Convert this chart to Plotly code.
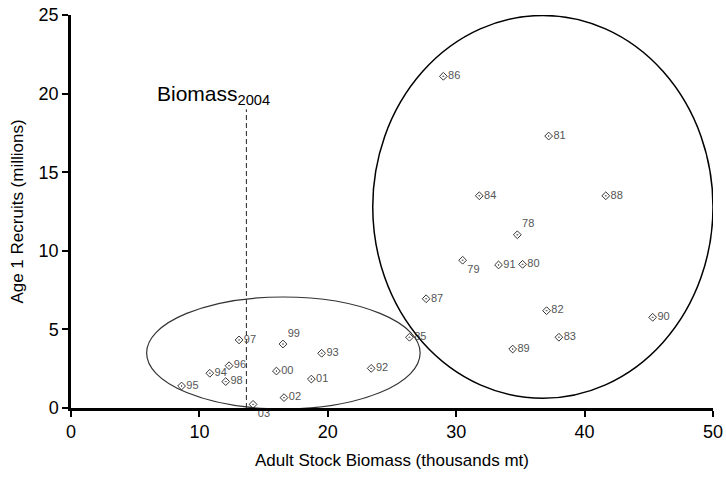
import plotly.graph_objects as go

# ---- data ----
years = ["78", "79", "80", "81", "82", "83", "84", "85", "86", "87", "88", "89", "90", "91",
         "92", "93", "94", "95", "96", "97", "98", "99", "00", "01", "02", "03"]
biomass = [34.76, 30.5, 35.17, 37.2, 37.04, 38.0, 31.8, 26.36, 29.0, 27.66, 41.65, 34.4, 45.3, 33.3,
           23.38, 19.52, 10.81, 8.61, 12.31, 13.09, 12.05, 16.51, 16.0, 18.72, 16.59, 14.18]
recruits = [11.02, 9.4, 9.14, 17.3, 6.19, 4.5, 13.5, 4.5, 21.1, 6.95, 13.5, 3.75, 5.77, 9.1,
            2.52, 3.48, 2.21, 1.40, 2.69, 4.33, 1.68, 4.07, 2.35, 1.84, 0.66, 0.23]
label_pos = {"78": "top right", "79": "bottom right", "99": "top right", "03": "bottom right"}

biomass_2004 = 13.66
biomass_2004_top = 19.0

# ellipse bounds (x0, x1, y0, y1) in data units
big_group = [23.5, 50.0, 0.62, 24.97]
small_group = [5.89, 27.19, -0.06, 7.06]

x_ticks = [0, 10, 20, 30, 40, 50]
y_ticks = [0, 5, 10, 15, 20, 25]

FONT = "Arial, 'Liberation Sans', sans-serif"

fig = go.Figure()

fig.add_trace(go.Scatter(
    x=[biomass_2004, biomass_2004], y=[0, biomass_2004_top], mode="lines",
    line=dict(color="#222222", width=1, dash="5px,3px"), hoverinfo="skip", showlegend=False))

fig.add_trace(go.Scatter(
    x=biomass, y=recruits, mode="markers+text", text=years,
    textposition=[label_pos.get(y, "middle right") for y in years],
    textfont=dict(family=FONT, size=11, color="#555555"),
    marker=dict(symbol="diamond-open-dot", size=6, color="#333333", line=dict(width=1, color="#333333")),
    cliponaxis=False, showlegend=False))

fig.add_shape(type="circle", xref="x", yref="y",
              x0=big_group[0], x1=big_group[1], y0=big_group[2], y1=big_group[3],
              line=dict(color="black", width=1.5))
fig.add_shape(type="circle", xref="x", yref="y",
              x0=small_group[0], x1=small_group[1], y0=small_group[2], y1=small_group[3],
              line=dict(color="#333333", width=1.2))

fig.add_annotation(x=11.1, y=19.9, xref="x", yref="y", text="Biomass<sub>2004</sub>",
                   showarrow=False, font=dict(family=FONT, size=21, color="black"))

axis_common = dict(showgrid=False, zeroline=False, showline=True, linecolor="black", linewidth=2.5,
                   ticks="outside", ticklen=6, tickwidth=2, tickcolor="black", automargin=False,
                   tickfont=dict(family=FONT, size=18, color="black"),
                   title_font=dict(family=FONT, size=17, color="black"))

fig.update_xaxes(range=[0, 50], tickvals=x_ticks, ticktext=[str(v) for v in x_ticks],
                 title=dict(text="Adult Stock Biomass (thousands mt)", standoff=13), **axis_common)
fig.update_yaxes(range=[0, 25], tickvals=y_ticks, ticktext=[str(v) for v in y_ticks],
                 title=dict(text="Age 1 Recruits (millions)", standoff=11), **axis_common)

fig.update_layout(width=726, height=477, margin=dict(l=71, r=13, t=15, b=69, autoexpand=False),
                  plot_bgcolor="white", paper_bgcolor="white", font=dict(family=FONT))

fig.write_html("out.html", config={"displayModeBar": False},
               post_script="document.body.style.margin='0';document.body.style.padding='0';")
